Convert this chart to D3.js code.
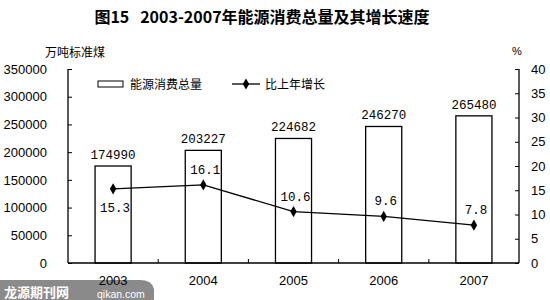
<!DOCTYPE html>
<html>
<head>
<meta charset="utf-8">
<script src="https://cdn.jsdelivr.net/npm/d3@7"></script>
<style>
  body { margin: 0; background: #fff; }
  svg { display: block; }
  text { font-family: "Liberation Sans", Arial, "Noto Sans CJK SC", sans-serif; fill: #000; }
  .cjk { font-family: "Noto Sans CJK SC", sans-serif; }
  .val { font-family: "Liberation Mono", "DejaVu Sans Mono", monospace; font-size: 12.5px; }
</style>
</head>
<body>
<div id="chart"></div>
<script>
// data
var years = ['2003', '2004', '2005', '2006', '2007'];
var consumption = [174990, 203227, 224682, 246270, 265480];
var growth = [15.3, 16.1, 10.6, 9.6, 7.8];
var leftTicks = [0, 50000, 100000, 150000, 200000, 250000, 300000, 350000];
var rightTicks = [0, 5, 10, 15, 20, 25, 30, 35, 40];

var W = 550, H = 300;
var m = { left: 68, right: 31, top: 69, bottom: 37 };

var svg = d3.select('#chart').append('svg')
    .attr('width', W).attr('height', H);

var x = d3.scaleBand().domain(years).range([m.left, W - m.right]);
var yL = d3.scaleLinear().domain([0, 350000]).range([H - m.bottom, m.top]);
var yR = d3.scaleLinear().domain([0, 40]).range([H - m.bottom, m.top]);

// watermark (underneath everything)
var wm = svg.append('g');
wm.append('path')
    .attr('d', 'M0,280H140Q152,280 154,289V300H0Z')
    .attr('fill', '#8a8a8a');
wm.append('text').attr('class', 'cjk').attr('x', 4).attr('y', 297)
    .style('font-size', '13px').style('font-weight', 'bold').style('fill', '#fff')
    .text('龙源期刊网');
wm.append('text').attr('x', 97).attr('y', 298)
    .style('font-size', '10.5px').style('fill', '#fff')
    .text('qikan.com');

// title
svg.append('text').attr('class', 'cjk')
    .attr('x', 262).attr('y', 23)
    .attr('text-anchor', 'middle')
    .style('font-size', '16px').style('font-weight', 'bold')
    .text('图15\u00a0\u00a0\u00a02003-2007年能源消费总量及其增长速度');

svg.append('text').attr('class', 'cjk')
    .attr('x', 45).attr('y', 57)
    .style('font-size', '12px')
    .text('万吨标准煤');
svg.append('text')
    .attr('x', 512).attr('y', 55)
    .style('font-size', '11px')
    .text('%');

// bars
svg.selectAll('rect.bar').data(consumption).enter().append('rect')
    .attr('class', 'bar')
    .attr('x', function(d, i) { return x(years[i]) + x.bandwidth() * 0.3; })
    .attr('width', x.bandwidth() * 0.4)
    .attr('y', function(d) { return yL(d); })
    .attr('height', function(d) { return yL(0) - yL(d); })
    .attr('fill', '#fff').attr('stroke', '#000').attr('stroke-width', 1.3);

svg.selectAll('text.barval').data(consumption).enter().append('text')
    .attr('class', 'val')
    .attr('x', function(d, i) { return x(years[i]) + x.bandwidth() / 2; })
    .attr('y', function(d) { return yL(d) - 7; })
    .attr('text-anchor', 'middle')
    .text(function(d) { return d; });

// axes
var axL = d3.axisLeft(yL).tickValues(leftTicks).tickFormat(d3.format('d')).tickSize(-4).tickPadding(21);
var gL = svg.append('g').attr('transform', 'translate(' + m.left + ',0)').call(axL);
var axR = d3.axisRight(yR).tickValues(rightTicks).tickSize(-4).tickPadding(12);
var gR = svg.append('g').attr('transform', 'translate(' + (W - m.right) + ',0)').call(axR);
var axB = d3.axisBottom(x).tickSize(0).tickPadding(13);
var gB = svg.append('g').attr('transform', 'translate(0,' + (H - m.bottom) + ')').call(axB);
[gL, gR, gB].forEach(function(g) {
    g.select('.domain').attr('stroke', '#000').attr('stroke-width', 1.3);
    g.selectAll('.tick line').attr('stroke', '#000');
    g.selectAll('.tick text').style('font-size', '13px').style('font-family', '"Liberation Sans", Arial, sans-serif');
});
gL.select('.domain').attr('d', 'M0,' + yL(350000) + 'H-0V' + yL(0));
gR.select('.domain').attr('d', 'M0,' + yR(40) + 'H0V' + yR(0));
gB.select('.domain').attr('d', 'M' + m.left + ',0H' + (W - m.right));
// small category separators
svg.selectAll('line.sep').data(years.slice(1)).enter().append('line')
    .attr('x1', function(d) { return x(d); }).attr('x2', function(d) { return x(d); })
    .attr('y1', yL(0)).attr('y2', yL(0) - 4)
    .attr('stroke', '#000');

// growth line
var line = d3.line()
    .x(function(d, i) { return x(years[i]) + x.bandwidth() / 2; })
    .y(function(d) { return yR(d); });
svg.append('path').datum(growth)
    .attr('d', line).attr('fill', 'none')
    .attr('stroke', '#000').attr('stroke-width', 1.3);
var diamond = d3.symbol().type(d3.symbolDiamond).size(36);
svg.selectAll('path.pt').data(growth).enter().append('path')
    .attr('class', 'pt')
    .attr('d', diamond)
    .attr('transform', function(d, i) {
        return 'translate(' + (x(years[i]) + x.bandwidth() / 2) + ',' + yR(d) + ')';
    });
svg.selectAll('text.lineval').data(growth).enter().append('text')
    .attr('class', 'val')
    .attr('x', function(d, i) { return x(years[i]) + x.bandwidth() / 2 + 2; })
    .attr('y', function(d, i) { return i === 0 ? yR(d) + 23 : yR(d) - 11; })
    .attr('text-anchor', 'middle')
    .text(function(d) { return d.toFixed(1); });

// legend
var lg = svg.append('g');
lg.append('rect').attr('x', 98).attr('y', 81).attr('width', 25).attr('height', 6)
    .attr('fill', '#fff').attr('stroke', '#000');
lg.append('text').attr('class', 'cjk').attr('x', 130).attr('y', 89)
    .style('font-size', '12px').text('能源消费总量');
lg.append('line').attr('x1', 232).attr('x2', 260).attr('y1', 84).attr('y2', 84)
    .attr('stroke', '#000').attr('stroke-width', 1.3);
lg.append('path').attr('d', diamond).attr('transform', 'translate(246,84)');
lg.append('text').attr('class', 'cjk').attr('x', 265).attr('y', 89)
    .style('font-size', '12px').text('比上年增长');
</script>
</body>
</html>
